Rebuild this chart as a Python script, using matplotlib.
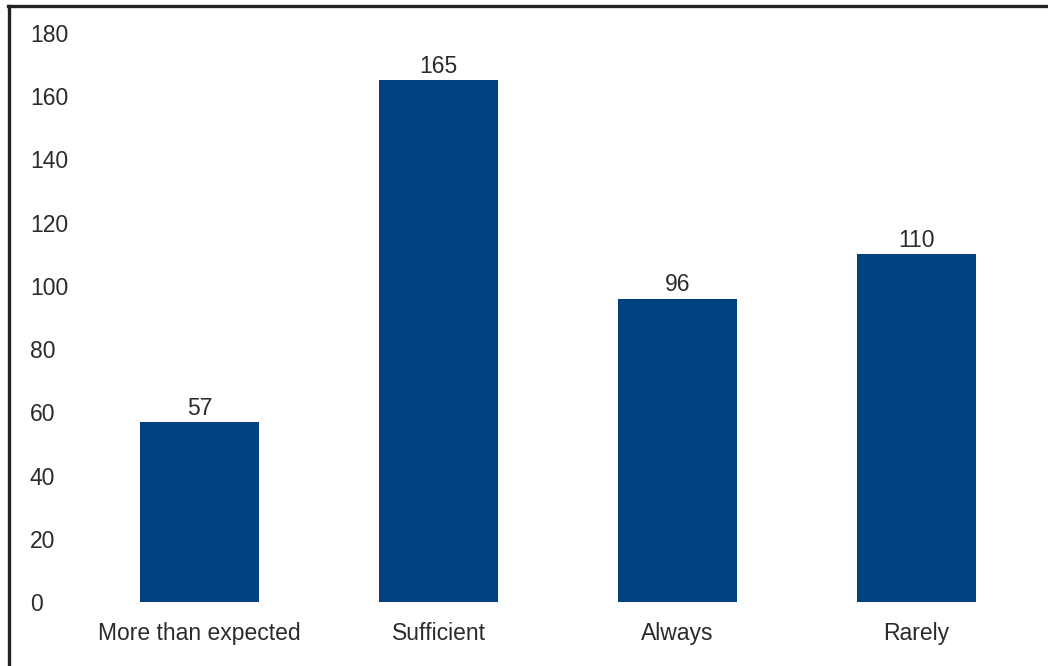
import matplotlib
matplotlib.use("Agg")
import matplotlib.pyplot as plt
from matplotlib.lines import Line2D

categories = ["More than expected", "Sufficient", "Always", "Rarely"]
counts = [57, 165, 96, 110]
y_ticks = [0, 20, 40, 60, 80, 100, 120, 140, 160, 180]

plt.rcParams["font.family"] = ["Liberation Sans", "DejaVu Sans"]

W, H = 1048, 666
fig = plt.figure(figsize=(W / 100, H / 100), dpi=100)
ax = fig.add_axes([80 / W, 64 / H, (1036 - 80) / W, (602 - 33) / H])

bar_color = "#00417F"
text_color = "#2b2b2b"
fs = 16.5

x = range(len(categories))
ax.bar(x, counts, width=0.5, color=bar_color)

for xi, v in zip(x, counts):
    ax.annotate(str(v), (xi, v), xytext=(0, 1.5), textcoords="offset points",
                ha="center", va="bottom", fontsize=fs, color=text_color)

ax.set_xlim(-0.5, len(categories) - 0.5)
ax.set_ylim(0, 180)
ax.set_yticks(y_ticks)
ax.set_xticks(list(x))
ax.set_xticklabels(categories)

for s in ax.spines.values():
    s.set_visible(False)

ax.tick_params(axis="y", length=0, pad=36, labelsize=fs, labelcolor=text_color)
ax.tick_params(axis="x", length=0, pad=14.5, labelsize=fs, labelcolor=text_color)
for lab in ax.get_yticklabels():
    lab.set_horizontalalignment("left")

# outer frame: top and left edges
fig.add_artist(Line2D([9 / W, 9 / W], [0, 1 - 6 / H], transform=fig.transFigure,
                      color="#222222", lw=2.4))
fig.add_artist(Line2D([8 / W, 1], [1 - 6 / H, 1 - 6 / H], transform=fig.transFigure,
                      color="#222222", lw=2.4))

fig.savefig("out.png", dpi=100)
